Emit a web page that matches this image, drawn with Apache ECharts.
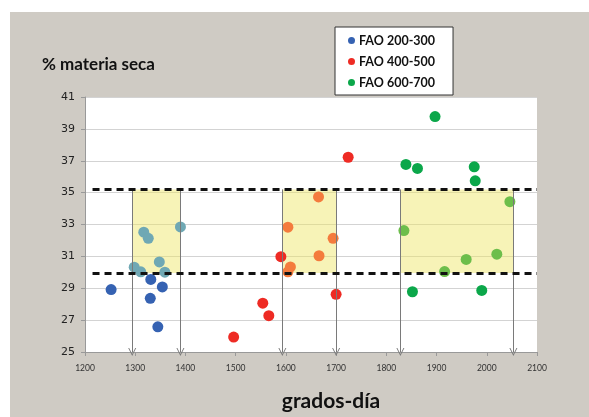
<!DOCTYPE html>
<html>
<head>
<meta charset="utf-8">
<script src="https://cdn.jsdelivr.net/npm/echarts@6/dist/echarts.min.js"></script>
<style>
  body { margin: 0; background: #fff; }
  #main { position: absolute; left: 10px; top: 12px; width: 579px; height: 405px; }
</style>
</head>
<body>
<div id="main"></div>
<script>
// values: [grados-dia, % materia seca]
const fao200 = [
  [1252, 28.92], [1331, 29.55], [1330, 28.37], [1354, 29.08], [1345, 26.58], [1390, 32.85],
  [1298, 30.32], [1311, 30.03], [1317, 32.52], [1326, 32.13], [1348, 30.65], [1359, 30.01]
]
const fao400 = [
  [1496, 25.94], [1554, 28.06], [1566, 27.28], [1590, 30.98], [1604, 32.83], [1609, 30.34],
  [1604, 30.03], [1665, 34.73], [1694, 32.13], [1666, 31.04], [1700, 28.62], [1724, 37.22]
]
const fao600 = [
  [1897, 39.77], [1839, 36.77], [1862, 36.52], [1975, 36.62], [1977, 35.74], [2046, 34.43],
  [1835, 32.62], [1959, 30.81], [2020, 31.14], [1916, 30.05], [1852, 28.78], [1990, 28.86]
]
const seriesNames = ['FAO 200-300', 'FAO 400-500', 'FAO 600-700']

// yellow target windows
const boxStart = [1294, 1593, 1828]
const boxEnd = [1390, 1700, 2053]
const bandLow = 29.95
const bandHigh = 35.2

const colors = ['#3562B2', '#EE2B24', '#0BA74A']
const lightColors = ['#6FA8B4', '#F47B3D', '#6DBE4B']

function inBox(v) {
  if (v[1] < bandLow || v[1] > bandHigh) return false
  for (let i = 0; i < boxStart.length; i++) {
    if (v[0] >= boxStart[i] && v[0] <= boxEnd[i]) return true
  }
  return false
}

const arrowHead = 'path://M5,0 L10,9 L8.8,9 L5,2.2 L1.2,9 L0,9 Z'

const areas = boxStart.map((s, i) => [{ xAxis: s, yAxis: bandLow }, { xAxis: boxEnd[i], yAxis: bandHigh }])
const edges = []
boxStart.forEach((s, i) => {
  edges.push([{ coord: [s, bandHigh] }, { coord: [s, 25] }])
  edges.push([{ coord: [boxEnd[i], bandHigh] }, { coord: [boxEnd[i], 25] }])
})

const font = 'Lato, "Open Sans", sans-serif'

const option = {
  animation: false,
  backgroundColor: '#CFCBC4',
  title: {
    text: '% materia seca',
    left: 32, top: 44, padding: 0,
    textStyle: { fontFamily: font, fontWeight: 'bold', fontSize: 17, color: '#111' }
  },
  legend: {
    orient: 'vertical',
    left: 325, top: 15,
    padding: [7, 18, 6, 13],
    itemGap: 8,
    itemWidth: 7, itemHeight: 7,
    backgroundColor: '#fff',
    borderColor: '#333', borderWidth: 1, borderRadius: 0,
    textStyle: { fontFamily: font, fontWeight: 'bold', fontSize: 12.5, color: '#111', padding: [0, 0, 0, -1] },
    data: seriesNames.map((n, i) => ({ name: n, icon: 'circle', itemStyle: { color: colors[i] } }))
  },
  grid: {
    left: 75, right: 52, top: 85, bottom: 60,
    show: true, backgroundColor: '#fff', borderWidth: 0
  },
  xAxis: {
    type: 'value', min: 1200, max: 2100, interval: 100,
    name: 'grados-día', nameLocation: 'middle', nameGap: 39,
    nameTextStyle: { fontFamily: font, fontWeight: 'bold', fontSize: 21, color: '#111', padding: [0, 0, 0, 40] },
    axisLine: { show: true, lineStyle: { color: '#999' } },
    axisTick: { show: true, length: 4, lineStyle: { color: '#999' } },
    axisLabel: { fontFamily: font, fontSize: 8.5, color: '#333', margin: 12, formatter: v => String(v) },
    splitLine: { show: false }
  },
  yAxis: {
    type: 'value', min: 25, max: 41, interval: 2,
    axisLine: { show: true, lineStyle: { color: '#999' } },
    axisTick: { show: true, length: 4, lineStyle: { color: '#999' } },
    axisLabel: { fontFamily: '"DejaVu Sans"', fontSize: 11, color: '#222', margin: 10 },
    splitLine: { show: true, lineStyle: { color: '#D3D3D3', width: 1 } }
  },
  series: [
    {
      name: 'boxes', type: 'scatter', data: [], z: 1, silent: true,
      markArea: {
        silent: true,
        itemStyle: { color: 'rgba(238,228,95,0.45)' },
        data: areas
      }
    },
    ...[fao200, fao400, fao600].map((d, i) => ({
      name: seriesNames[i], type: 'scatter', data: d, z: 2,
      symbolSize: 11,
      itemStyle: {
        opacity: 1,
        color: p => inBox(p.value) ? lightColors[i] : colors[i]
      }
    })),
    {
      name: 'lines', type: 'scatter', data: [], z: 3, silent: true,
      markLine: {
        silent: true, animation: false,
        symbol: ['none', arrowHead], symbolSize: [8, 8],
        label: { show: false },
        lineStyle: { color: '#7a7a7a', width: 1, type: 'solid' },
        data: edges
      }
    },
    {
      name: 'dashes', type: 'scatter', data: [], z: 4, silent: true,
      markLine: {
        silent: true, animation: false,
        symbol: ['none', 'none'],
        label: { show: false },
        lineStyle: { color: '#111', width: 3, type: [7, 5] },
        data: [
          [{ coord: [1215, bandHigh] }, { coord: [2100, bandHigh] }],
          [{ coord: [1215, bandLow] }, { coord: [2100, bandLow] }]
        ]
      }
    }
  ]
}

const chart = echarts.init(document.getElementById('main'))
chart.setOption(option)
</script>
</body>
</html>
